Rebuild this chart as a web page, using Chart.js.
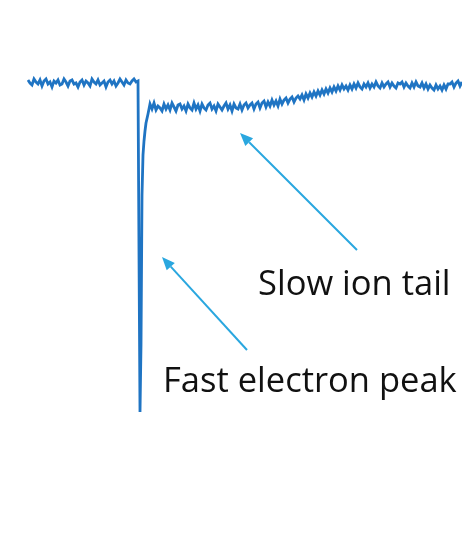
<!DOCTYPE html>
<html>
<head>
<meta charset="utf-8">
<script src="https://cdn.jsdelivr.net/npm/chart.js@4/dist/chart.umd.min.js"></script>
<style>
  html, body { margin: 0; padding: 0; background: #fff; }
  #wrap { width: 462px; height: 539px; }
</style>
</head>
<body>
<div id="wrap"><canvas id="signalChart"></canvas></div>
<script>
// detector pulse, time in ns, amplitude in mV (baseline = 0)
var sampleStep = 2

// pre-trigger baseline, t = 0 .. 110
var baselineStart = 0
var baselineMv = [
  3, 0, -2, 4, 1, -1, 3, -3, 2, 4, -1, 1, -4, 2, 0, 3, -2, -1, 4, 1,
  -3, 2, 3, -1, 0, -4, 1, 3, -2, 2, 0, -3, 4, 1, -1, 3, -2, 0, 2, -4,
  1, 3, -1, 2, -3, 0, 4, 1, -2, 3, 0, -1, 2, 4, 1, 2
]

// fast electron peak (finer sampling)
var peakTimes = [111, 112, 113, 114, 115, 116, 117, 118, 120]
var peakMv = [-170, -329, -262, -112, -72, -58, -48, -40, -31]

// slow ion tail, t = 122 .. 434
var tailStart = 122
var tailMv = [
  -21, -26, -20, -27, -23, -25, -28, -21, -26, -22,
  -27, -20, -24, -28, -22, -21, -26, -23, -28, -21,
  -25, -27, -20, -26, -22, -28, -21, -25, -27, -22,
  -20, -26, -23, -28, -21, -24, -27, -23, -20, -26,
  -22, -28, -21, -25, -26, -21, -27, -22, -20, -25,
  -22, -20, -26, -21, -19, -25, -20, -18, -24, -19,
  -23, -17, -22, -18, -23, -16, -21, -17, -15, -20,
  -16, -14, -19, -15, -13,
  -16, -12, -17, -11, -15, -10, -14, -9, -13, -8,
  -12, -7, -11, -6, -10, -5, -9, -4, -8, -3,
  -7, -2, -6, -3, -7,
  -2, -6, -1, -5, 0, -4, -6, -1, -4, 0,
  -5, -1, -4, 1, -3, -5, 0, -4, -1, 1,
  -4, 0, -3, -5, 0,
  -1, 1, -4, 0, -3, -5, 0, -4, 1, -3,
  -4, 0, -5, -1, -6, -2, -5, -7, -2, -6,
  -3, -7, -2, -6, -1,
  -1, 1, -4, 0, 2, -3, 1
]

// annotations (data units)
var arrows = [
  { from: [329, -167], to: [212, -50] },
  { from: [219, -267], to: [134, -174] }
]
var labels = [
  { text: 'Slow ion tail', at: [230, -212] },
  { text: 'Fast electron peak', at: [135, -309] }
]

var points = []
for (let i in baselineMv) points.push({ x: baselineStart + i * sampleStep, y: baselineMv[i] })
for (let i in peakTimes) points.push({ x: peakTimes[i], y: peakMv[i] })
for (let i in tailMv) points.push({ x: tailStart + i * sampleStep, y: tailMv[i] })

var annotationPlugin = {
  id: 'arrowNotes',
  afterDatasetsDraw: function(chart) {
    var ctx = chart.ctx
    var xs = chart.scales.x
    var ys = chart.scales.y
    ctx.save()
    ctx.strokeStyle = '#2aa7df'
    ctx.fillStyle = '#2aa7df'
    ctx.lineWidth = 2
    arrows.forEach(function(a) {
      var x1 = xs.getPixelForValue(a.from[0]), y1 = ys.getPixelForValue(a.from[1])
      var x2 = xs.getPixelForValue(a.to[0]), y2 = ys.getPixelForValue(a.to[1])
      var ang = Math.atan2(y2 - y1, x2 - x1)
      var len = 13, half = 5.5
      var bx = x2 - len * Math.cos(ang), by = y2 - len * Math.sin(ang)
      ctx.beginPath()
      ctx.moveTo(x1, y1)
      ctx.lineTo(bx, by)
      ctx.stroke()
      ctx.beginPath()
      ctx.moveTo(x2, y2)
      ctx.lineTo(bx + half * Math.sin(ang), by - half * Math.cos(ang))
      ctx.lineTo(bx - half * Math.sin(ang), by + half * Math.cos(ang))
      ctx.closePath()
      ctx.fill()
    })
    ctx.fillStyle = '#111'
    ctx.font = '34.5px "Open Sans"'
    ctx.textBaseline = 'alphabetic'
    labels.forEach(function(l) {
      ctx.fillText(l.text, xs.getPixelForValue(l.at[0]), ys.getPixelForValue(l.at[1]))
    })
    ctx.restore()
  }
}

const signalChart = new Chart(document.getElementById('signalChart'), {
  type: 'line',
  data: {
    datasets: [{
      data: points,
      borderColor: '#1f74c3',
      borderWidth: 2.8,
      pointRadius: 0,
      tension: 0,
      fill: false
    }]
  },
  options: {
    responsive: true,
    maintainAspectRatio: false,
    animation: false,
    layout: { padding: 0 },
    plugins: { legend: { display: false }, tooltip: { enabled: false } },
    scales: {
      x: { type: 'linear', min: -28, max: 434, display: false },
      y: { type: 'linear', min: -456, max: 83, display: false }
    }
  },
  plugins: [annotationPlugin]
})
</script>
</body>
</html>
